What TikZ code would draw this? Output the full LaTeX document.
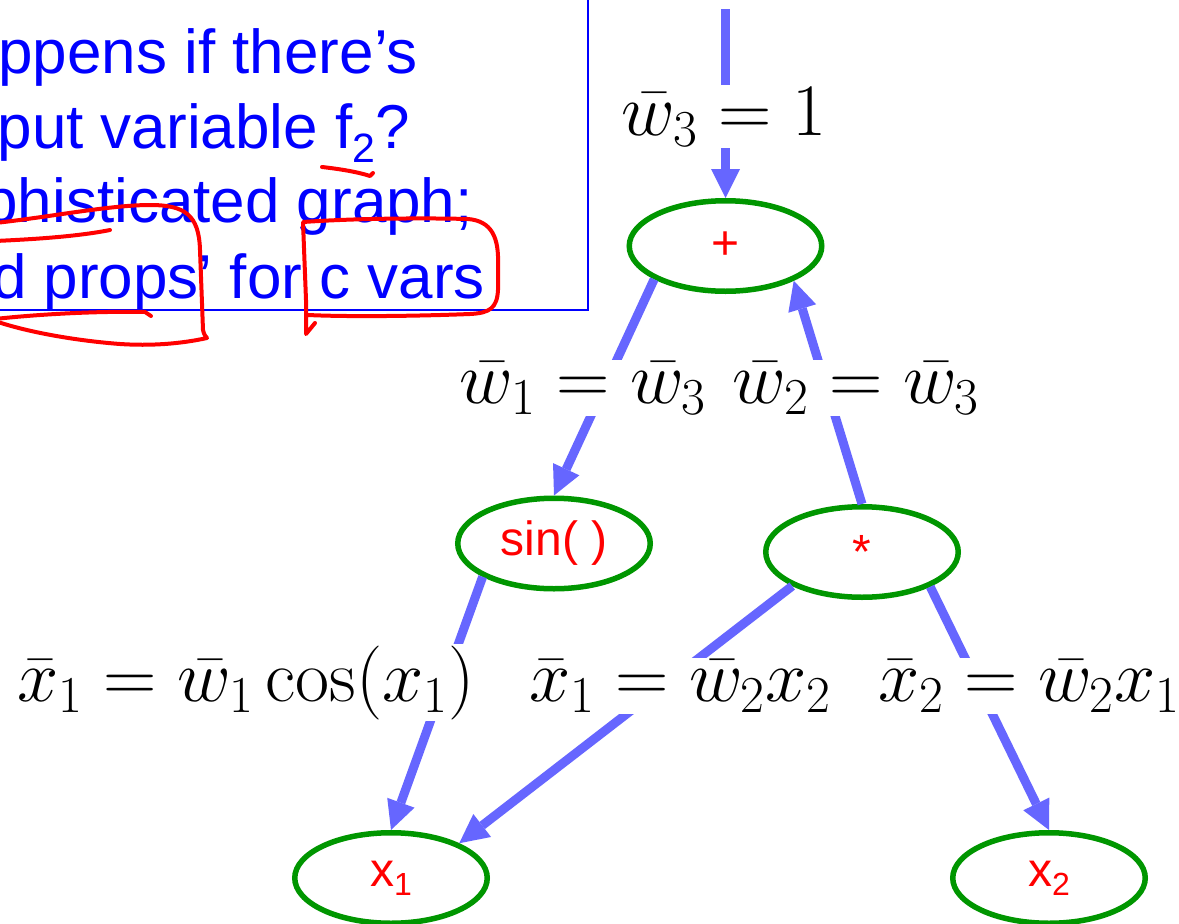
\RequirePackage{fix-cm}
\documentclass[tikz,border=0pt]{standalone}
\usepackage{fontspec}
\newfontfamily\arialf{Liberation Sans}
\usetikzlibrary{arrows.meta,shapes.geometric}
\definecolor{arrowblue}{RGB}{102,102,255}
\definecolor{nodegreen}{RGB}{0,150,0}
\definecolor{textblue}{RGB}{0,0,255}
\definecolor{inkred}{RGB}{255,0,0}
\newcommand{\lblfont}{\fontsize{74}{84}\selectfont}
\newcommand{\boxfont}{\arialf\fontsize{62}{62}\selectfont}
\newcommand{\opfont}{\arialf\fontsize{48}{48}\selectfont}
\tikzset{
  opnode/.style={ellipse, draw=nodegreen, line width=5.5pt, fill=white,
    minimum width=192.5pt, minimum height=90.5pt, inner sep=0pt,
    font=\opfont, text=inkred},
  conn/.style={draw=arrowblue, line width=9pt,
    -{Triangle[length=29pt,width=29pt,line width=0pt]}},
  lbl/.style={fill=white, inner sep=2pt, font=\lblfont, anchor=base, text=black},
  boxline/.style={anchor=base east, inner sep=0pt, font=\boxfont, text=textblue},
  redpen/.style={draw=inkred, line width=4pt, line cap=round, line join=round}
}
\begin{document}
\begin{tikzpicture}[x=1pt,y=-1pt]
\useasboundingbox (0,0) rectangle (1179,924);
\clip (0,0) rectangle (1179,924);
\fill[white] (0,0) rectangle (1179,924);

% text box
\draw[draw=textblue, line width=2pt] (-20,-20) rectangle (588,310);
\node[boxline] (t1) at (418,73) {ppens if there’s};
\node[boxline] (t2) at (410,148) {put variable f\raisebox{-14pt}{\fontsize{41}{41}\selectfont 2}?};
\node[boxline] (t3) at (473,222) {phisticated graph;};
\node[boxline] (t4) at (485,298) {d props’ for c vars};

% red annotations
\draw[redpen] (322,167) .. controls (340,169) and (358,172) .. (370,176) -- (373,173);
\draw[redpen] (-5,241) .. controls (40,239) and (80,236) .. (110,230);
\draw[redpen] (-5,223) .. controls (50,217) and (110,205) .. (150,205)
  .. controls (185,205) and (199,215) .. (200,250) -- (203,330)
  .. controls (204,335) and (206,337) .. (207,338)
  .. controls (180,344) and (150,346) .. (120,344)
  .. controls (80,341) and (30,333) .. (-5,321);
\draw[redpen] (-5,319) .. controls (40,314) and (100,311) .. (145,312) -- (151,316);
\draw[redpen] (315,323) -- (306,334) -- (306,300) -- (303,222)
  .. controls (360,218) and (430,218) .. (468,219)
  .. controls (492,221) and (499,238) .. (498,265) -- (498,290)
  .. controls (497,308) and (490,313) .. (470,314)
  .. controls (420,316) and (350,317) .. (308,315);

% graph nodes
\node[opnode] (plus) at (725.5,246) {+};
\node[opnode] (sin) at (554,543.5) {sin( )};
\node[opnode] (star) at (862,552) {*};
\node[opnode] (xa) at (391,878) {x\raisebox{-9pt}{\fontsize{32}{32}\selectfont 1}};
\node[opnode] (xb) at (1049,878) {x\raisebox{-9pt}{\fontsize{32}{32}\selectfont 2}};
\coordinate (top) at (725.5,9);

% connectors
\draw[conn] (top) -- (plus.north);
\draw[conn] (plus.205) -- (sin.north);
\draw[conn] (star.north) -- (plus.333);
\draw[conn] (sin.205) -- (xa.north);
\draw[conn] (star.206) -- (xa.27);
\draw[conn] (star.333) -- (xb.north);

% labels
\node[lbl] (l3) at (724,135) {$\bar w_3 = 1$};
\node[lbl] (l1) at (583,403) {$\bar w_1 = \bar w_3$};
\node[lbl] (l2) at (856,403) {$\bar w_2 = \bar w_3$};
\node[lbl] (l4) at (246,701) {$\bar x_1 = \bar w_1 \cos(x_1)$};
\node[lbl] (l5) at (680,701) {$\bar x_1 = \bar w_2 x_2$};
\node[lbl] (l6) at (1029,701) {$\bar x_2 = \bar w_2 x_1$};
\end{tikzpicture}
\end{document}
